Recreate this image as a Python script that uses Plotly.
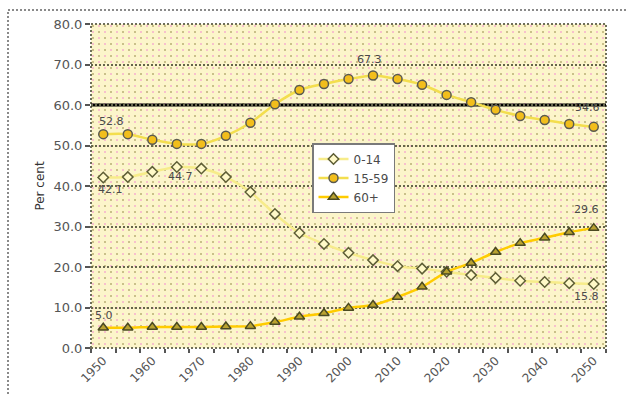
import base64
import plotly.graph_objects as go

# Share of population by age group, per cent
years = list(range(1950, 2051, 5))
age_0_14 = [42.1, 42.2, 43.5, 44.7, 44.3, 42.2, 38.5, 33.1, 28.4, 25.7, 23.5,
            21.7, 20.2, 19.6, 18.8, 18.0, 17.3, 16.6, 16.3, 16.0, 15.8]
age_15_59 = [52.8, 52.8, 51.4, 50.4, 50.4, 52.4, 55.6, 60.2, 63.7, 65.2, 66.4,
             67.3, 66.4, 65.0, 62.5, 60.7, 58.8, 57.3, 56.3, 55.3, 54.6]
age_60_plus = [5.0, 5.0, 5.2, 5.2, 5.2, 5.3, 5.4, 6.4, 7.7, 8.6, 9.9,
               10.6, 12.6, 15.1, 18.8, 21.0, 23.7, 25.9, 27.2, 28.6, 29.6]
series_names = ["0-14", "15-59", "60+"]
year_labels = [str(y) for y in range(1950, 2051, 10)]
y_ticks = [0, 10, 20, 30, 40, 50, 60, 70, 80]
reference_level = 60

FONT = "DejaVu Sans"
TXT = "#4a4a4a"

# plot-area geometry in pixels
W, H = 626, 394
L, R, T, B = 91, 20, 24, 46
PW, PH = W - L - R, H - T - B

fig = go.Figure()

styles = [
    dict(values=age_0_14, line="#F7EC8A", symbol="diamond", fill="#FFF9C8", edge="#5E5E36", size=8),
    dict(values=age_15_59, line="#F3DE4E", symbol="circle", fill="#F2BE1C", edge="#5A5A50", size=9),
    dict(values=age_60_plus, line="#FFCC00", symbol="triangle-up", fill="#B9A230", edge="#4A4A22", size=9),
]
for name, st in zip(series_names, styles):
    fig.add_trace(go.Scatter(
        x=years, y=st["values"], name=name, mode="lines+markers",
        line=dict(color=st["line"], width=2.5, shape="spline", smoothing=0.7),
        marker=dict(symbol=st["symbol"], size=st["size"], color=st["fill"],
                    line=dict(color=st["edge"], width=1.5)),
    ))

# value labels at the ends and turning points
labels = [
    (age_15_59, 0, 8, 13),
    (age_0_14, 0, 7, -12),
    (age_0_14, 3, 4, -10),
    (age_15_59, 11, -4, 16),
    (age_15_59, 20, -6, 19),
    (age_60_plus, 20, -7, 19),
    (age_0_14, 20, -7, -12),
    (age_60_plus, 0, 1, 12),
]
annotations = []
for vals, i, dx, dy in labels:
    annotations.append(dict(
        x=years[i], y=vals[i], text=f"{vals[i]:.1f}", showarrow=False,
        xshift=dx, yshift=dy, font=dict(family=FONT, size=11, color=TXT),
    ))

# dotted fill of the plot area
svg = (
    f'<svg xmlns="http://www.w3.org/2000/svg" width="{PW}" height="{PH}">'
    '<defs><pattern id="p" width="12" height="12" patternUnits="userSpaceOnUse">'
    '<rect width="12" height="12" fill="#FCF5CA"/>'
    '<rect x="1" y="1" width="2" height="2" fill="#C9C08A"/>'
    '<rect x="7" y="1" width="2" height="2" fill="#F7C0CD"/>'
    '<rect x="1" y="7" width="2" height="2" fill="#F7C0CD"/>'
    '<rect x="7" y="7" width="2" height="2" fill="#C9C08A"/>'
    '</pattern></defs><rect width="100%" height="100%" fill="url(#p)"/></svg>'
)
bg_uri = "data:image/svg+xml;base64," + base64.b64encode(svg.encode()).decode()


def px_x(p):
    return (p - L) / PW


def px_y(q):
    return (H - B - q) / PH


shapes = [
    # outer chart frame
    dict(type="rect", xref="paper", yref="paper",
         x0=px_x(8), x1=px_x(W + 10), y0=px_y(H + 10), y1=px_y(10),
         line=dict(color="#8a8a8a", width=2, dash="2px,2px"), fillcolor="rgba(0,0,0,0)", layer="below"),
    # plot-area border
    dict(type="rect", xref="paper", yref="paper", x0=0, x1=1, y0=0, y1=1,
         line=dict(color="#6f6f5a", width=2, dash="2px,2px"), layer="between"),
    # reference line
    dict(type="line", xref="paper", yref="y", x0=0, x1=1,
         y0=reference_level, y1=reference_level,
         line=dict(color="#000000", width=3), layer="between"),
]

fig.update_layout(
    width=W, height=H,
    margin=dict(l=L, r=R, t=T, b=B, pad=0, autoexpand=False),
    paper_bgcolor="white", plot_bgcolor="#FCF5CA",
    font=dict(family=FONT, size=12, color=TXT),
    showlegend=True,
    legend=dict(
        x=px_x(312), y=px_y(143), xanchor="left", yanchor="top",
        bgcolor="white", bordercolor="#7a7a7a", borderwidth=1.5,
        font=dict(family=FONT, size=12, color=TXT),
        itemwidth=30, tracegroupgap=0,
    ),
    images=[dict(source=bg_uri, xref="paper", yref="paper", x=0, y=1,
                 sizex=1, sizey=1, xanchor="left", yanchor="top",
                 sizing="stretch", layer="below")],
    shapes=shapes,
    annotations=annotations,
    xaxis=dict(
        range=[1947.5, 2052.5], automargin=False,
        tickmode="array", tickvals=[int(t) for t in year_labels], ticktext=year_labels,
        tickangle=-45, ticks="outside", ticklen=0,
        tickfont=dict(family=FONT, size=12, color="#555555"),
        showgrid=False, zeroline=False, showline=False,
        minor=dict(tickmode="array", tickvals=[y - 2.5 for y in years] + [years[-1] + 2.5],
                   ticks="outside", ticklen=4, tickcolor="#555555", tickwidth=1.5,
                   showgrid=False),
    ),
    yaxis=dict(
        range=[0, 80], tickmode="array", tickvals=y_ticks, tickformat=".1f",
        automargin=False,
        ticks="outside", ticklen=5, tickcolor="#555555", tickwidth=1.5,
        tickfont=dict(family=FONT, size=13, color="#555555"),
        showgrid=True, gridcolor="#66664c", gridwidth=2, griddash="2px,2px",
        zeroline=False, showline=False,
        title=dict(text="Per cent", standoff=6,
                   font=dict(family=FONT, size=12, color="#333333")),
    ),
)

fig.write_html("out.html")
